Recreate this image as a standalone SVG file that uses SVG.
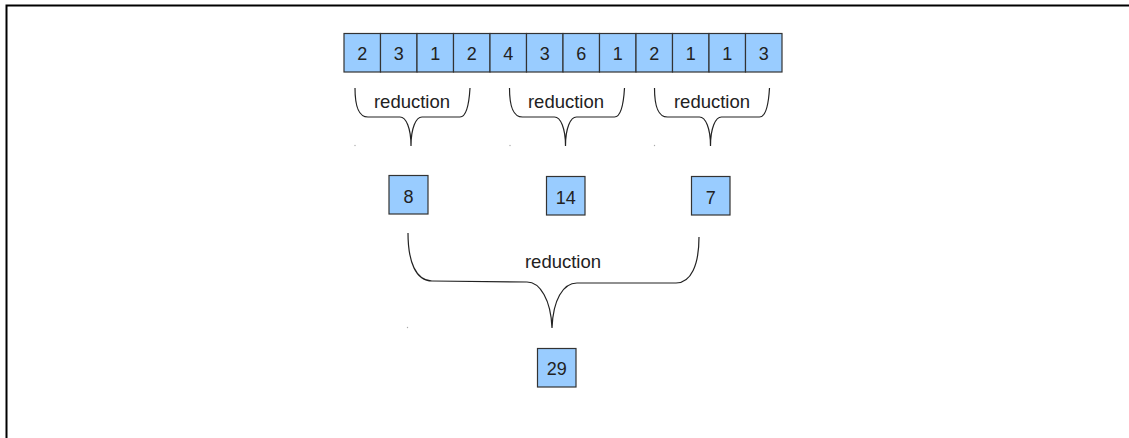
<svg xmlns="http://www.w3.org/2000/svg" width="1129" height="438" viewBox="0 0 1129 438">
  <style>
    .cell { fill: #99ccff; stroke: #333333; stroke-width: 1.2; }
    .num { font-family: "Liberation Sans", Arial, sans-serif; font-size: 18px; fill: #222222; text-anchor: middle; }
    .lbl { font-family: "Liberation Sans", Arial, sans-serif; font-size: 18.5px; fill: #222222; text-anchor: middle; }
    .brace { fill: none; stroke: #222222; stroke-width: 1.2; }
    .dot { fill: #aaaaaa; }
  </style>
  <defs>
    <!-- small curly brace, origin at its left arm top -->
    <path id="smallBrace" d="M0,0 C0,17 3,29 13,29 L45,29 C51,29 56,40 56,58 C56,40 61,29 67,29 L105,29 C111,29 114,17 115,0"/>
  </defs>

  <!-- page frame -->
  <path d="M6.5,438 L6.5,5.5 L1129,5.5" fill="none" stroke="#000000" stroke-width="2"/>

  <!-- input array -->
  <g id="array">
    <rect class="cell" x="344" y="33.5" width="36.5" height="38.5"/>
    <rect class="cell" x="380.5" y="33.5" width="36.5" height="38.5"/>
    <rect class="cell" x="417" y="33.5" width="36.5" height="38.5"/>
    <rect class="cell" x="453.5" y="33.5" width="36.5" height="38.5"/>
    <rect class="cell" x="490" y="33.5" width="36.5" height="38.5"/>
    <rect class="cell" x="526.5" y="33.5" width="36.5" height="38.5"/>
    <rect class="cell" x="563" y="33.5" width="36.5" height="38.5"/>
    <rect class="cell" x="599.5" y="33.5" width="36.5" height="38.5"/>
    <rect class="cell" x="636" y="33.5" width="36.5" height="38.5"/>
    <rect class="cell" x="672.5" y="33.5" width="36.5" height="38.5"/>
    <rect class="cell" x="709" y="33.5" width="36.5" height="38.5"/>
    <rect class="cell" x="745.5" y="33.5" width="36.5" height="38.5"/>
    <text class="num" x="362.25" y="60">2</text>
    <text class="num" x="398.75" y="60">3</text>
    <text class="num" x="435.25" y="60">1</text>
    <text class="num" x="471.75" y="60">2</text>
    <text class="num" x="508.25" y="60">4</text>
    <text class="num" x="544.75" y="60">3</text>
    <text class="num" x="581.25" y="60">6</text>
    <text class="num" x="617.75" y="60">1</text>
    <text class="num" x="654.25" y="60">2</text>
    <text class="num" x="690.75" y="60">1</text>
    <text class="num" x="727.25" y="60">1</text>
    <text class="num" x="763.75" y="60">3</text>
  </g>

  <!-- partial sums -->
  <g id="sum8">
    <rect class="cell" x="389" y="175.5" width="39" height="38.5"/>
    <text class="num" x="408.5" y="203">8</text>
  </g>
  <g id="sum14">
    <rect class="cell" x="546.5" y="176.5" width="38.5" height="38.5"/>
    <text class="num" x="565.75" y="204">14</text>
  </g>
  <g id="sum7">
    <rect class="cell" x="691.5" y="176.5" width="38.5" height="38.5"/>
    <text class="num" x="710.75" y="204">7</text>
  </g>

  <!-- total -->
  <g id="total">
    <rect class="cell" x="537.5" y="348.5" width="38.5" height="38.5"/>
    <text class="num" x="556.75" y="375">29</text>
  </g>

  <!-- reduction braces -->
  <g id="connectors">
    <use href="#smallBrace" class="brace" transform="translate(355,88)"/>
    <use href="#smallBrace" class="brace" transform="translate(509.5,88)"/>
    <use href="#smallBrace" class="brace" transform="translate(654.5,88)"/>
    <path class="brace" d="M408,233 C408,262 416,281 432,281 L527,282 C540,282 551,300 552,328 C553,300 563,283 577,283 L676,283 C691,283 699,265 699,237"/>
    <text class="lbl" x="412" y="108">reduction</text>
    <text class="lbl" x="566" y="108">reduction</text>
    <text class="lbl" x="712" y="108">reduction</text>
    <text class="lbl" x="563" y="268">reduction</text>
    <circle class="dot" cx="355" cy="145.5" r="0.7"/>
    <circle class="dot" cx="510" cy="145.5" r="0.7"/>
    <circle class="dot" cx="654.5" cy="145.5" r="0.7"/>
    <circle class="dot" cx="407.5" cy="327.5" r="0.7"/>
  </g>
</svg>
